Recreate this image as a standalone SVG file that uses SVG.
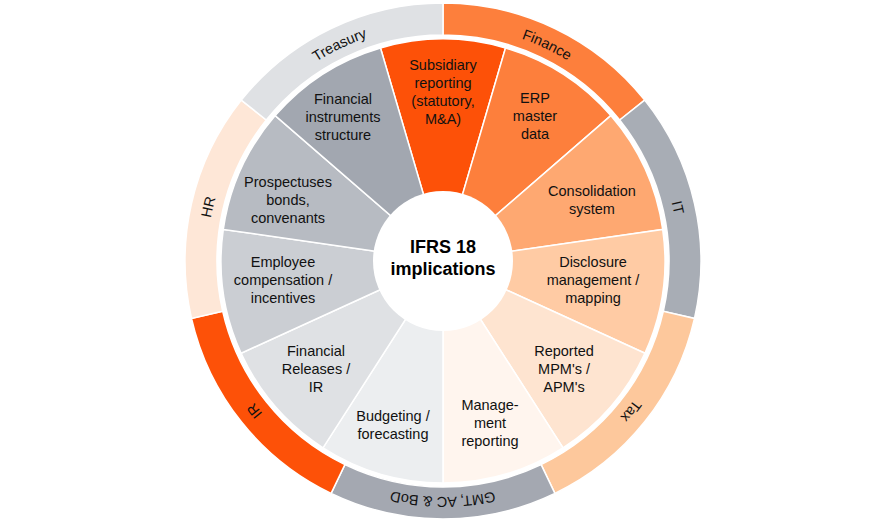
<svg xmlns="http://www.w3.org/2000/svg" width="885" height="522" viewBox="0 0 885 522">
<style>
.w{stroke:#fff;stroke-width:1.5}
.t{font-family:"Liberation Sans",Arial,sans-serif;font-size:14.5px;fill:#111;text-anchor:middle}
.r{font-family:"Liberation Sans",Arial,sans-serif;font-size:14.5px;fill:#111;text-anchor:middle}
.c{font-family:"Liberation Sans",Arial,sans-serif;font-size:18px;font-weight:bold;fill:#000;text-anchor:middle}
</style>
<defs>
<path id="arc" d="M443,25 A236,236 0 1 1 443,497 A236,236 0 1 1 443,25"/>
</defs>
<rect width="885" height="522" fill="#fff"/>
<g id="ring">
<path class="w" fill="#fd7f3c" d="M443,3 A258,258 0 0 1 644.7,100.1 L619.7,120.0 A226,226 0 0 0 443,35 Z"/>
<path class="w" fill="#a8adb5" d="M644.7,100.1 A258,258 0 0 1 694.5,318.4 L663.3,311.3 A226,226 0 0 0 619.7,120.0 Z"/>
<path class="w" fill="#fdc89c" d="M694.5,318.4 A258,258 0 0 1 554.9,493.4 L541.1,464.6 A226,226 0 0 0 663.3,311.3 Z"/>
<path class="w" fill="#a4a8b1" d="M554.9,493.4 A258,258 0 0 1 331.1,493.4 L344.9,464.6 A226,226 0 0 0 541.1,464.6 Z"/>
<path class="w" fill="#fd5108" d="M331.1,493.4 A258,258 0 0 1 191.5,318.4 L222.7,311.3 A226,226 0 0 0 344.9,464.6 Z"/>
<path class="w" fill="#fee7d7" d="M191.5,318.4 A258,258 0 0 1 241.3,100.1 L266.3,120.0 A226,226 0 0 0 222.7,311.3 Z"/>
<path class="w" fill="#dfe1e4" d="M241.3,100.1 A258,258 0 0 1 443,3 L443,35 A226,226 0 0 0 266.3,120.0 Z"/>
</g>
<g id="ring-labels" class="r">
<text><textPath href="#arc" startOffset="1376.9">Treasury</textPath></text>
<text><textPath href="#arc" startOffset="105.9">Finance</textPath></text>
<text><textPath href="#arc" startOffset="317.7">IT</textPath></text>
<text><textPath href="#arc" startOffset="529.6">Tax</textPath></text>
<text><textPath href="#arc" startOffset="741.4">GMT, AC &amp; BoD</textPath></text>
<text><textPath href="#arc" startOffset="953.2">IR</textPath></text>
<text><textPath href="#arc" startOffset="1165.2">HR</textPath></text>
</g>
<g id="wedges">
<path class="w" fill="#fd5108" d="M443,261 L380.5,48.0 A222,222 0 0 1 505.5,48.0 Z"/>
<path class="w" fill="#fd7f3c" d="M443,261 L505.5,48.0 A222,222 0 0 1 610.8,115.6 Z"/>
<path class="w" fill="#fea871" d="M443,261 L610.8,115.6 A222,222 0 0 1 662.7,229.4 Z"/>
<path class="w" fill="#ffcba4" d="M443,261 L662.7,229.4 A222,222 0 0 1 644.9,353.2 Z"/>
<path class="w" fill="#fee4d0" d="M443,261 L644.9,353.2 A222,222 0 0 1 563.0,447.8 Z"/>
<path class="w" fill="#fff5ee" d="M443,261 L563.0,447.8 A222,222 0 0 1 443,483 Z"/>
<path class="w" fill="#eceef0" d="M443,261 L443,483 A222,222 0 0 1 323.0,447.8 Z"/>
<path class="w" fill="#dfe1e4" d="M443,261 L323.0,447.8 A222,222 0 0 1 241.1,353.2 Z"/>
<path class="w" fill="#cbced3" d="M443,261 L241.1,353.2 A222,222 0 0 1 223.3,229.4 Z"/>
<path class="w" fill="#b7bbc2" d="M443,261 L223.3,229.4 A222,222 0 0 1 275.2,115.6 Z"/>
<path class="w" fill="#a2a7b0" d="M443,261 L275.2,115.6 A222,222 0 0 1 380.5,48.0 Z"/>
</g>
<g id="labels" class="t">
<text x="443" y="70">Subsidiary<tspan x="443" dy="18">reporting</tspan><tspan x="443" dy="18">(statutory,</tspan><tspan x="443" dy="18">M&amp;A)</tspan></text>
<text x="535" y="103">ERP<tspan x="535" dy="18">master</tspan><tspan x="535" dy="18">data</tspan></text>
<text x="592" y="196">Consolidation<tspan x="592" dy="18">system</tspan></text>
<text x="593" y="267">Disclosure<tspan x="593" dy="18">management /</tspan><tspan x="593" dy="18">mapping</tspan></text>
<text x="564" y="356">Reported<tspan x="564" dy="18">MPM's /</tspan><tspan x="564" dy="18">APM's</tspan></text>
<text x="490" y="410">Manage-<tspan x="490" dy="18">ment</tspan><tspan x="490" dy="18">reporting</tspan></text>
<text x="393" y="421">Budgeting /<tspan x="393" dy="18">forecasting</tspan></text>
<text x="316" y="356">Financial<tspan x="316" dy="18">Releases /</tspan><tspan x="316" dy="18">IR</tspan></text>
<text x="283" y="267">Employee<tspan x="283" dy="18">compensation /</tspan><tspan x="283" dy="18">incentives</tspan></text>
<text x="288" y="187">Prospectuses<tspan x="288" dy="18">bonds,</tspan><tspan x="288" dy="18">convenants</tspan></text>
<text x="343" y="104">Financial<tspan x="343" dy="18">instruments</tspan><tspan x="343" dy="18">structure</tspan></text>
</g>
<g id="center">
<circle cx="443" cy="261" r="70" fill="#fff"/>
<text class="c" x="443" y="253">IFRS 18<tspan x="443" dy="22">implications</tspan></text>
</g>
</svg>
